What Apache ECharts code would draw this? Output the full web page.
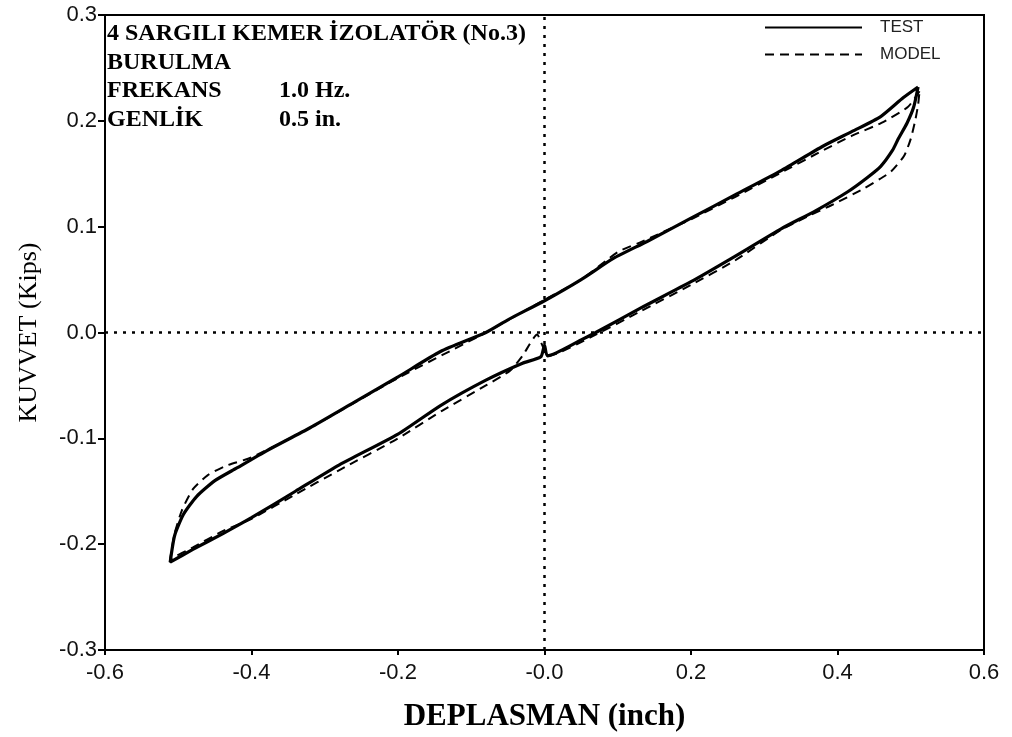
<!DOCTYPE html>
<html>
<head>
<meta charset="utf-8">
<title>KUVVET - DEPLASMAN</title>
<script src="https://cdn.jsdelivr.net/npm/echarts@6/dist/echarts.min.js"></script>
<style>
  html, body { margin: 0; padding: 0; background: #fff; }
  #chart { width: 1012px; height: 737px; }
</style>
</head>
<body>
<div id="chart"></div>
<script>
// Axis ranges and tick labels
const xMin = -0.6, xMax = 0.6, xStep = 0.2;
const yMin = -0.3, yMax = 0.3, yStep = 0.1;
const xTickLabels = ['-0.6', '-0.4', '-0.2', '-0.0', '0.2', '0.4', '0.6'];
const yTickLabels = ['-0.3', '-0.2', '-0.1', '0.0', '0.1', '0.2', '0.3'];

// Measured loop (displacement in inch, force in kips)
const testUpper = [
  [0.510, 0.232], [0.490, 0.222], [0.459, 0.204], [0.420, 0.190], [0.380, 0.176],
  [0.323, 0.153], [0.260, 0.130], [0.200, 0.108], [0.140, 0.086], [0.094, 0.070],
  [0.050, 0.050], [0.000, 0.030], [-0.050, 0.012], [-0.080, 0.000], [-0.142, -0.018],
  [-0.200, -0.042], [-0.260, -0.066], [-0.320, -0.090], [-0.380, -0.112], [-0.420, -0.128],
  [-0.450, -0.140], [-0.475, -0.155], [-0.493, -0.172], [-0.505, -0.192], [-0.511, -0.217]
];
const testLower = [
  [-0.511, -0.217], [-0.480, -0.205], [-0.439, -0.190], [-0.400, -0.175], [-0.340, -0.150],
  [-0.280, -0.125], [-0.200, -0.096], [-0.142, -0.069], [-0.080, -0.045], [-0.030, -0.029],
  [-0.005, -0.023], [0.000, -0.012], [0.004, -0.022], [0.050, -0.007], [0.070, 0.000],
  [0.131, 0.023], [0.200, 0.048], [0.260, 0.072], [0.323, 0.098], [0.370, 0.115],
  [0.414, 0.133], [0.440, 0.146], [0.459, 0.157], [0.475, 0.172], [0.483, 0.183],
  [0.495, 0.198], [0.504, 0.213], [0.510, 0.232]
];

// Model loop
const modelUpper = [
  [0.512, 0.228], [0.496, 0.213], [0.460, 0.198], [0.420, 0.186], [0.380, 0.172],
  [0.320, 0.150], [0.260, 0.128], [0.200, 0.107], [0.130, 0.085], [0.100, 0.076],
  [0.050, 0.050], [0.000, 0.031], [-0.080, 0.000], [-0.200, -0.043], [-0.320, -0.090],
  [-0.400, -0.118], [-0.435, -0.126], [-0.460, -0.135], [-0.480, -0.148], [-0.495, -0.168],
  [-0.505, -0.190], [-0.511, -0.214]
];
const modelLower = [
  [-0.511, -0.214], [-0.480, -0.203], [-0.440, -0.188], [-0.400, -0.176], [-0.340, -0.153],
  [-0.280, -0.130], [-0.200, -0.100], [-0.140, -0.074], [-0.080, -0.050], [-0.047, -0.036],
  [-0.030, -0.022], [-0.010, -0.002], [-0.003, -0.012], [0.005, -0.022], [0.070, -0.002],
  [0.131, 0.020], [0.200, 0.045], [0.260, 0.068], [0.323, 0.097], [0.360, 0.110],
  [0.391, 0.120], [0.436, 0.136], [0.460, 0.146], [0.473, 0.152], [0.491, 0.167],
  [0.500, 0.183], [0.506, 0.200], [0.510, 0.215], [0.512, 0.228]
];

// Text block in the upper-left corner of the plot
const infoLines = [
  ['4 SARGILI KEMER İZOLATÖR (No.3)', ''],
  ['BURULMA', ''],
  ['FREKANS', '1.0 Hz.'],
  ['GENLİK', '0.5 in.']
];

const seriesNames = ['TEST', 'MODEL'];
const xTitle = 'DEPLASMAN (inch)';
const yTitle = 'KUVVET (Kips)';

const chart = echarts.init(document.getElementById('chart'), null, { renderer: 'canvas' });

const infoFont = 'bold 24px "Liberation Serif", "Times New Roman", serif';
const graphics = [];
infoLines.forEach((row, i) => {
  const y = 35 + i * 28.5;
  graphics.push({
    type: 'text', left: 107, top: y - 13,
    style: { text: row[0], font: infoFont, fill: '#000' }
  });
  if (row[1]) {
    graphics.push({
      type: 'text', left: 279, top: y - 13,
      style: { text: row[1], font: infoFont, fill: '#000' }
    });
  }
});

const tickFont = { fontFamily: '"Liberation Sans", Arial, sans-serif', fontSize: 22, color: '#111' };

chart.setOption({
  animation: false,
  backgroundColor: '#fff',
  grid: {
    left: 105, right: 28, top: 15, bottom: 82,
    show: true, borderColor: '#000', borderWidth: 2, backgroundColor: 'transparent'
  },
  legend: {
    data: seriesNames,
    orient: 'vertical',
    left: 759, top: 14,
    itemWidth: 97, itemHeight: 14, itemGap: 10,
    itemStyle: { opacity: 0 },
    textStyle: {
      fontFamily: '"Liberation Sans", Arial, sans-serif', fontSize: 17, color: '#222',
      padding: [0, 0, 0, 13]
    }
  },
  xAxis: {
    type: 'value', min: xMin, max: xMax, interval: xStep,
    name: xTitle, nameLocation: 'middle', nameGap: 51,
    nameTextStyle: { fontFamily: '"Liberation Serif", "Times New Roman", serif', fontSize: 31, fontWeight: 'bold', color: '#000' },
    axisLine: { show: true, onZero: false, lineStyle: { color: '#000', width: 2 } },
    axisTick: { show: true, inside: false, length: 5, lineStyle: { color: '#000', width: 2 } },
    splitLine: { show: false },
    axisLabel: Object.assign({}, tickFont, {
      margin: 12,
      formatter: v => xTickLabels[Math.round((v - xMin) / xStep)]
    })
  },
  yAxis: {
    type: 'value', min: yMin, max: yMax, interval: yStep,
    name: yTitle, nameLocation: 'middle', nameGap: 63, nameRotate: 90,
    nameTextStyle: { fontFamily: '"Liberation Serif", "Times New Roman", serif', fontSize: 26, color: '#000' },
    axisLine: { show: true, onZero: false, lineStyle: { color: '#000', width: 2 } },
    axisTick: { show: true, inside: false, length: 7, lineStyle: { color: '#000', width: 2 } },
    splitLine: { show: false },
    axisLabel: Object.assign({}, tickFont, {
      margin: 8,
      formatter: v => yTickLabels[Math.round((v - yMin) / yStep)]
    })
  },
  graphic: graphics,
  series: [
    {
      name: seriesNames[0], type: 'line',
      data: testUpper.concat(testLower.slice(1)),
      showSymbol: false, symbol: 'none', smooth: 0.2,
      lineStyle: { color: '#000', width: 3.2, type: 'solid' },
      itemStyle: { color: '#000' },
      z: 3,
      markLine: {
        silent: true, symbol: ['none', 'none'],
        label: { show: false },
        lineStyle: { color: '#000', width: 2.5, type: [3, 6] },
        data: [{ xAxis: 0 }, { yAxis: 0 }]
      }
    },
    {
      name: seriesNames[1], type: 'line',
      data: modelUpper.concat(modelLower.slice(1)),
      showSymbol: false, symbol: 'none', smooth: 0.2,
      lineStyle: { color: '#000', width: 2, type: [9, 6] },
      itemStyle: { color: '#000' },
      z: 2
    }
  ]
});
</script>
</body>
</html>
